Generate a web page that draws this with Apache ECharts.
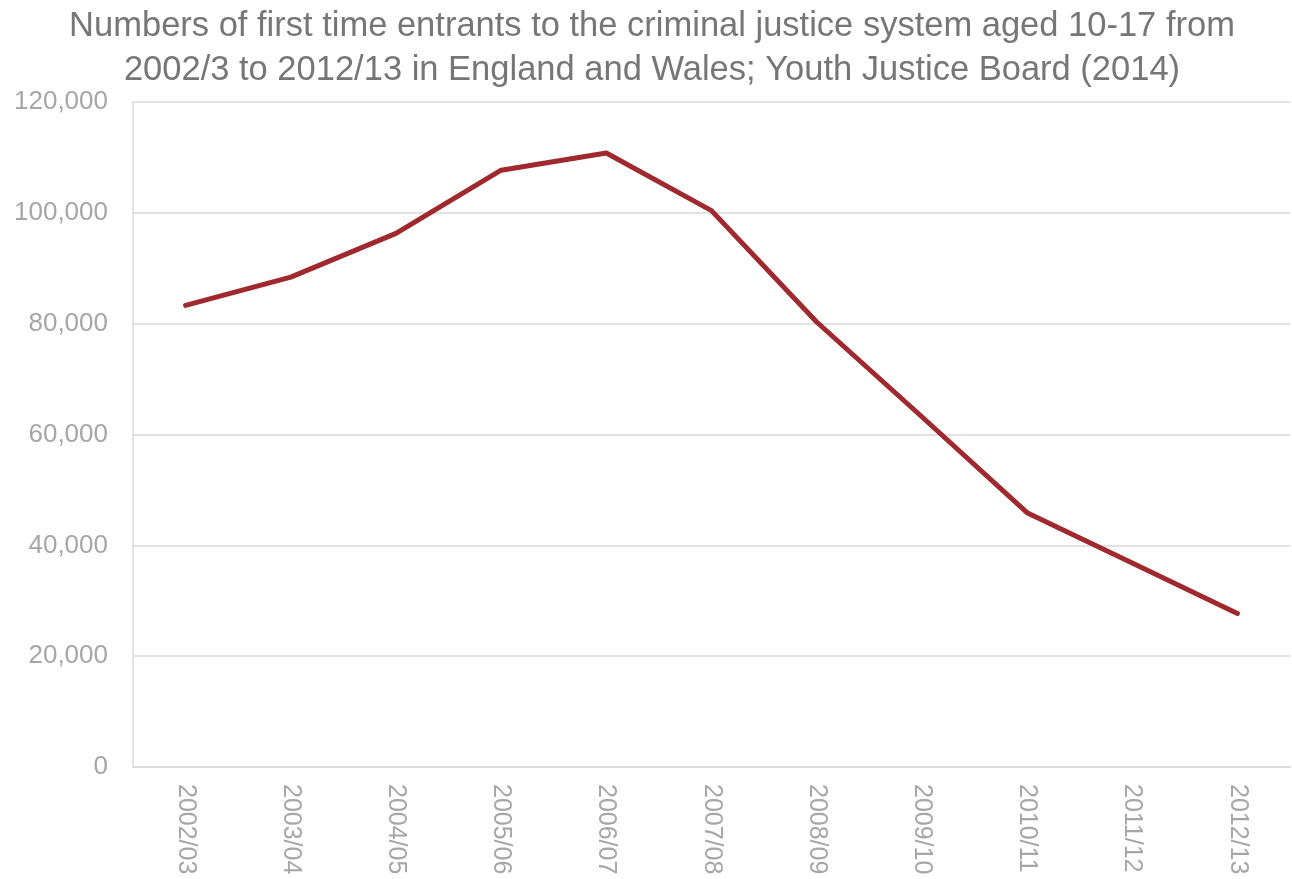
<!DOCTYPE html>
<html>
<head>
<meta charset="utf-8">
<script src="https://cdn.jsdelivr.net/npm/echarts@6/dist/echarts.min.js"></script>
<style>
  html, body { margin: 0; padding: 0; background: #fff; }
  #chart { width: 1292px; height: 879px; }
</style>
</head>
<body>
<div id="chart"></div>
<script>
// First time entrants to the youth justice system, England and Wales
const years = ['2002/03', '2003/04', '2004/05', '2005/06', '2006/07', '2007/08',
               '2008/09', '2009/10', '2010/11', '2011/12', '2012/13'];
const entrants = [83300, 88400, 96300, 107700, 110800, 100400,
                  80300, 63200, 45900, 36800, 27700];
const yTicks = [0, 20000, 40000, 60000, 80000, 100000, 120000];

const titleText = 'Numbers of first time entrants to the criminal justice system aged 10-17 from\n2002/3 to 2012/13 in England and Wales; Youth Justice Board (2014)';

const chart = echarts.init(document.getElementById('chart'), null, { renderer: 'canvas' });

chart.setOption({
  animation: false,
  backgroundColor: '#ffffff',
  title: {
    text: titleText,
    left: 652,
    textAlign: 'center',
    top: 4,
    padding: 0,
    textStyle: {
      fontFamily: 'Liberation Sans, Arial, sans-serif',
      fontSize: 34.5,
      fontWeight: 'normal',
      color: '#767676',
      lineHeight: 44
    }
  },
  grid: { left: 133, right: 2, top: 102, bottom: 112 },
  xAxis: {
    type: 'category',
    data: years,
    boundaryGap: true,
    axisLine: { show: true, lineStyle: { color: '#d9d9d9', width: 1.5 } },
    axisTick: { show: false },
    axisLabel: {
      rotate: -90,
      margin: 17,
      fontFamily: 'Liberation Sans, Arial, sans-serif',
      fontSize: 25,
      color: '#a6a6a6'
    }
  },
  yAxis: {
    type: 'value',
    min: yTicks[0],
    max: yTicks[yTicks.length - 1],
    interval: yTicks[1] - yTicks[0],
    axisLine: { show: true, lineStyle: { color: '#d9d9d9', width: 1.5 } },
    axisTick: { show: false },
    splitLine: { show: true, lineStyle: { color: '#d9d9d9', width: 1.5 } },
    axisLabel: {
      margin: 25,
      fontFamily: 'Liberation Sans, Arial, sans-serif',
      fontSize: 26,
      color: '#a6a6a6',
      formatter: v => v.toLocaleString('en-GB')
    }
  },
  series: [{
    type: 'line',
    data: entrants,
    symbol: 'none',
    lineStyle: { color: '#a0282f', width: 5, cap: 'round', join: 'round' }
  }]
});
</script>
</body>
</html>
